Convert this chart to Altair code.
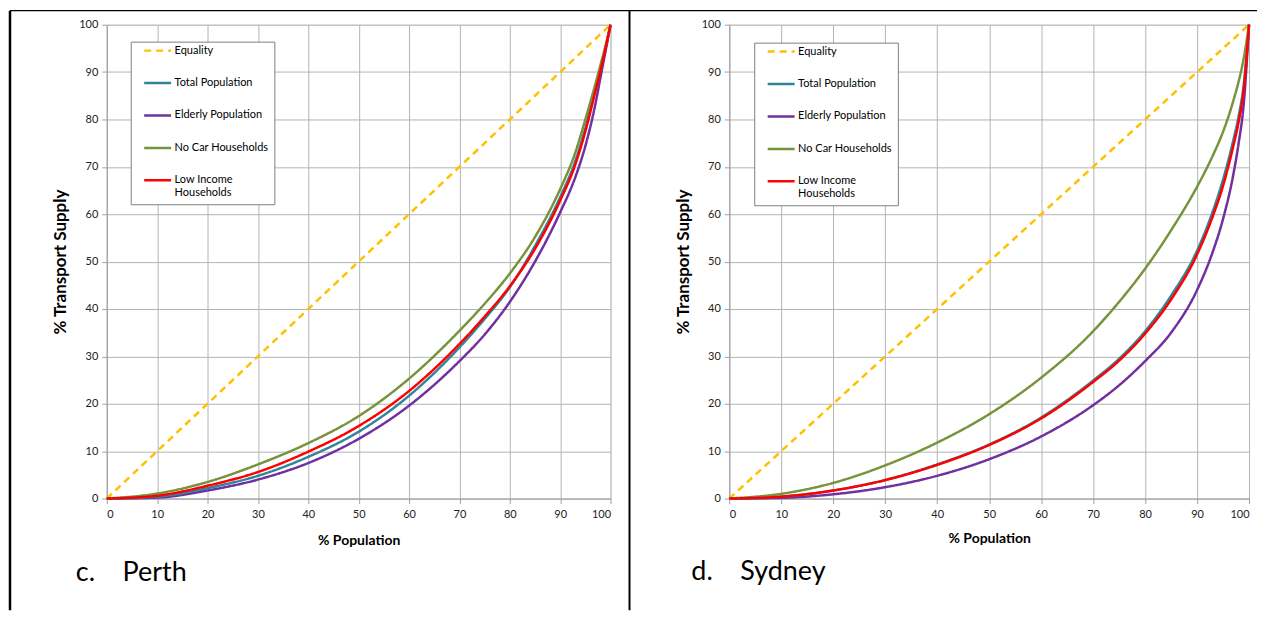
import altair as alt
import pandas as pd

# ---------------- data ----------------
pct = [0, 10, 20, 30, 40, 50, 60, 70, 75, 80, 85, 90, 93, 95, 97, 98, 99, 100]
equality_x = [0, 100]
equality_y = [0, 100]

perth_total = [0, 0.4, 2.2, 4.8, 8.8, 14.1, 21.7, 31.9, 37.9, 44.6, 53.3, 63.6, 71.2, 78.2, 86.5, 90.7, 95.3, 100]
perth_elderly = [0, 0.2, 1.7, 4.0, 7.5, 12.6, 19.6, 29.0, 34.6, 41.5, 50.0, 60.4, 67.8, 74.4, 83.3, 88.9, 94.4, 100]
perth_nocar = [0, 1.05, 3.5, 7.2, 11.7, 17.4, 25.3, 35.4, 41.1, 47.5, 55.2, 65.3, 73.0, 80.0, 87.5, 91.5, 95.5, 100]
perth_lowinc = [0, 0.6, 2.7, 5.6, 9.9, 15.3, 22.7, 32.6, 38.4, 44.8, 52.7, 62.9, 70.5, 77.5, 86.0, 90.3, 95.0, 100]

sydney_total = [0, 0.4, 1.7, 3.9, 7.2, 11.4, 17.1, 24.9, 29.5, 35.3, 42.8, 52.3, 60.5, 67.3, 75.7, 80.7, 87.5, 100]
sydney_elderly = [0, 0.15, 0.9, 2.4, 4.8, 8.3, 13.1, 19.7, 23.9, 29.0, 35.0, 44.0, 52.0, 59.0, 68.5, 75.0, 83.5, 100]
sydney_nocar = [0, 1.0, 3.3, 7.0, 11.8, 17.8, 25.5, 35.3, 41.5, 48.5, 56.6, 65.8, 72.3, 77.4, 84.0, 88.0, 93.0, 100]
sydney_lowinc = [0, 0.4, 1.7, 3.9, 7.1, 11.3, 16.9, 24.6, 29.1, 34.8, 42.0, 51.5, 59.5, 66.0, 74.5, 79.5, 86.5, 100]

series_names = ["Equality", "Total Population", "Elderly Population",
                "No Car Households", "Low Income Households"]
series_colors = ["#FFC000", "#31849B", "#7030A0", "#77933C", "#FF0000"]
series_dashes = [[7, 5], [1, 0], [1, 0], [1, 0], [1, 0]]

captions = ["c.\u00a0\u00a0\u00a0\u00a0Perth", "d.\u00a0\u00a0\u00a0\u00a0Sydney"]

FONT = "Lato"


def make_df(total, elderly, nocar, lowinc):
    rows = []
    for x, y in zip(equality_x, equality_y):
        rows.append({"pct": x, "supply": y, "series": "Equality"})
    for name, vals in [("Elderly Population", elderly),
                       ("Total Population", total),
                       ("No Car Households", nocar),
                       ("Low Income Households", lowinc)]:
        for x, y in zip(pct, vals):
            rows.append({"pct": x, "supply": y, "series": name})
    return pd.DataFrame(rows)


def legend(lx, ly):
    return alt.Legend(
        title=" ", titleFontSize=1, titlePadding=-13,
        orient="none", legendX=lx, legendY=ly,
        fillColor="white", strokeColor="#7F7F7F", padding=6,
        symbolType="stroke", symbolSize=729, symbolStrokeWidth=2.5,
        symbolOffset=6, labelOffset=2,
        labelFont=FONT, labelFontSize=11, labelColor="black",
        rowPadding=12.5, labelLimit=200,
        labelExpr="datum.label == 'Low Income Households' ? ['Low Income', 'Households'] : datum.label",
    )


dummy = pd.DataFrame({"k": [0]})


def panel(df, w, h, lx, ly, caption, cap_x, cap_y, xpad, frame_layers):
    leg = legend(lx, ly)
    lines = alt.Chart(df).mark_line(strokeWidth=2.5, interpolate="monotone").encode(
        x=alt.X("pct:Q", scale=alt.Scale(domain=[0, 100], nice=False),
                axis=alt.Axis(values=list(range(0, 101, 10)), title="% Population",
                              titleFont=FONT, titleFontSize=14, titleFontWeight="bold",
                              titleColor="black", titlePadding=xpad,
                              labelFont=FONT, labelFontSize=11, labelColor="#222",
                              labelPadding=5, tickSize=5, tickColor="#A0A0A0",
                              domainColor="#A0A0A0", gridColor="#B4B4B4")),
        y=alt.Y("supply:Q", scale=alt.Scale(domain=[0, 100], nice=False),
                axis=alt.Axis(values=list(range(0, 101, 10)), title="% Transport Supply",
                              titleFont=FONT, titleFontSize=17, titleFontWeight="bold",
                              titleColor="black", titlePadding=9,
                              labelFont=FONT, labelFontSize=11, labelColor="#222",
                              labelPadding=4, tickSize=5, tickColor="#A0A0A0",
                              domainColor="#A0A0A0", gridColor="#B4B4B4")),
        color=alt.Color("series:N", scale=alt.Scale(domain=series_names, range=series_colors),
                        legend=leg),
        strokeDash=alt.StrokeDash("series:N",
                                  scale=alt.Scale(domain=series_names, range=series_dashes),
                                  legend=leg),
    )
    cap = alt.Chart(dummy).mark_text(
        align="left", baseline="middle", font=FONT, fontSize=27, color="black"
    ).encode(x=alt.value(cap_x), y=alt.value(cap_y), text=alt.value(caption))
    layers = [lines, cap] + frame_layers
    return alt.layer(*layers).properties(width=w, height=h)


def rule(x, x2, y, y2, sw):
    return alt.Chart(dummy).mark_rule(color="black", strokeWidth=sw).encode(
        x=alt.value(x), x2=alt.value(x2), y=alt.value(y), y2=alt.value(y2))


left_frames = [
    rule(-97, 1153, -14, -14, 1.2),      # top border
    rule(-97, -97, -14, 587, 2.5),       # left border
    rule(524, 524, -14, 587, 2),         # middle divider
]

perth_df = make_df(perth_total, perth_elderly, perth_nocar, perth_lowinc)
sydney_df = make_df(sydney_total, sydney_elderly, sydney_nocar, sydney_lowinc)

left = panel(perth_df, 505, 475, 24, 17, captions[0], -31, 550, 14, left_frames)
right = panel(sydney_df, 521, 475, 25, 18, captions[1], -38, 549, 12, [])

chart = alt.hconcat(left, right, spacing=119, bounds="flush").resolve_scale(
    color="independent", strokeDash="independent"
).resolve_legend(color="independent", strokeDash="independent").properties(
    padding=0,
).configure_view(stroke=None).configure(background="white")

chart.save("out.html", embed_options={"renderer": "svg", "actions": False})
